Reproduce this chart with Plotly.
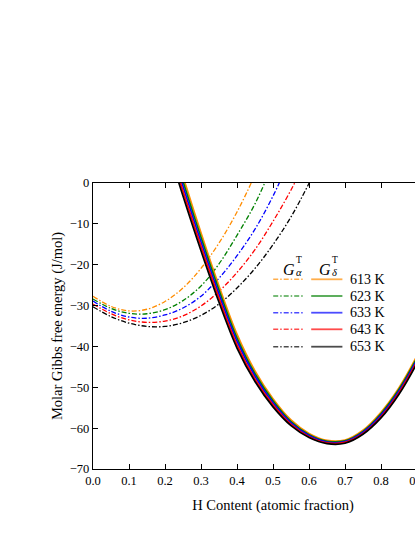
import plotly.graph_objects as go

# temperatures and colours
temps = ["613 K", "623 K", "633 K", "643 K", "653 K"]
colors = ["#ff8c00", "#008000", "#0000ff", "#ff0000", "#000000"]

# G_alpha curves (dash-dot)
alpha_x = [0.0, 0.05, 0.1, 0.15, 0.2, 0.25, 0.3, 0.35, 0.4, 0.45, 0.5, 0.55, 0.6, 0.65]
alpha_613 = [-27.7, -30.2, -31.3, -30.9, -29.0, -25.7, -20.9, -14.7, -7.1, 2.0, 12.0, 22.0, 32.0, 42.0]
alpha_623 = [-28.4, -30.7, -31.9, -32.0, -31.0, -28.8, -25.2, -19.8, -12.8, -5.1, 4.6, 14.0, 24.0, 34.0]
alpha_633 = [-28.9, -31.4, -32.8, -33.1, -32.3, -30.6, -27.7, -23.3, -17.8, -11.3, -3.2, 6.4, 16.0, 26.0]
alpha_643 = [-29.6, -32.0, -33.5, -34.1, -33.8, -32.5, -30.1, -26.5, -21.9, -16.3, -9.4, -1.7, 7.1, 17.0]
alpha_653 = [-30.3, -32.7, -34.3, -35.1, -35.1, -34.2, -32.4, -29.6, -25.7, -20.9, -15.1, -8.3, -0.1, 8.8]

# G_delta curves (solid)
delta_x = [0.225, 0.25, 0.30, 0.35, 0.40, 0.45, 0.50, 0.55,
           0.60, 0.65, 0.70, 0.75, 0.80, 0.85, 0.90, 0.95]
delta_613 = [8.7, 1.6, -12.2, -25.2, -37.0, -46.0, -52.8, -58.0,
             -61.3, -63.0, -62.9, -60.5, -56.1, -50.1, -42.3, -33.0]
delta_623 = [7.5, 0.4, -13.3, -26.2, -37.9, -46.7, -53.3, -58.4,
             -61.6, -63.2, -63.1, -60.8, -56.5, -50.5, -42.8, -33.5]
delta_633 = [6.3, -0.8, -14.4, -27.2, -38.7, -47.3, -53.8, -58.7,
             -61.8, -63.4, -63.3, -61.0, -56.8, -50.9, -43.2, -34.0]
delta_643 = [5.1, -2.0, -15.5, -28.2, -39.6, -48.0, -54.3, -59.1,
             -62.1, -63.6, -63.5, -61.3, -57.2, -51.3, -43.7, -34.5]
delta_653 = [3.9, -3.2, -16.6, -29.2, -40.4, -48.6, -54.8, -59.4,
             -62.3, -63.8, -63.7, -61.5, -57.5, -51.7, -44.1, -35.0]

x_ticks = [0.0, 0.1, 0.2, 0.3, 0.4, 0.5, 0.6, 0.7, 0.8, 0.9, 1.0]
y_ticks = [0, -10, -20, -30, -40, -50, -60, -70]

alphas = [alpha_613, alpha_623, alpha_633, alpha_643, alpha_653]
deltas = [delta_613, delta_623, delta_633, delta_643, delta_653]

DASHDOT = "5px,2px,1.5px,2px"
FONT = "Liberation Serif"

fig = go.Figure()

for ys, c in zip(alphas, colors):
    fig.add_trace(go.Scatter(x=alpha_x, y=ys, mode="lines",
                             line=dict(color=c, width=1.3, dash=DASHDOT, shape="spline"),
                             hoverinfo="skip"))

for ys, c in zip(deltas, colors):
    fig.add_trace(go.Scatter(x=delta_x, y=ys, mode="lines",
                             line=dict(color=c, width=1.7, shape="spline"),
                             hoverinfo="skip"))

# plot area in pixels: x 93.3..453.3, y 183..469
L, T, PW, PH = 93.3, 183.0, 360.0, 286.0


def px(xp):
    return (xp - L) / PW


def py(yp):
    return (T + PH - yp) / PH


# hand-made legend
row_y = [279.3, 296.0, 312.7, 329.3, 346.7]
for i, (c, lab) in enumerate(zip(colors, temps)):
    yy = py(row_y[i])
    fig.add_shape(type="line", xref="paper", yref="paper",
                  x0=px(273.5), x1=px(305), y0=yy, y1=yy, opacity=0.7,
                  line=dict(color=c, width=1.5, dash=DASHDOT))
    fig.add_shape(type="line", xref="paper", yref="paper",
                  x0=px(311.5), x1=px(342.7), y0=yy, y1=yy, opacity=0.7,
                  line=dict(color=c, width=1.8))
    fig.add_annotation(xref="paper", yref="paper", x=px(348.5), y=yy,
                       xanchor="left", yanchor="middle", showarrow=False,
                       text=lab, font=dict(family=FONT, size=14, color="black"))

for gx, sub in [(289, "α"), (325, "δ")]:
    fig.add_annotation(xref="paper", yref="paper", x=px(gx), y=py(259),
                       showarrow=False, text="<i>G</i>",
                       font=dict(family=FONT, size=16, color="black"))
    fig.add_annotation(xref="paper", yref="paper", x=px(gx + 5), y=py(252.5),
                       xanchor="left", showarrow=False, text="T",
                       font=dict(family=FONT, size=9.5, color="black"))
    fig.add_annotation(xref="paper", yref="paper", x=px(gx + 5), y=py(264.5),
                       xanchor="left", showarrow=False, text="<i>" + sub + "</i>",
                       font=dict(family=FONT, size=10.5, color="black"))

axis_common = dict(showline=True, linecolor="black", linewidth=1.3, mirror="allticks",
                   ticks="inside", ticklen=5, tickwidth=1.1, tickcolor="black",
                   showgrid=False, zeroline=False,
                   tickfont=dict(family=FONT, size=12.5, color="black"))

fig.update_layout(
    width=520, height=537,
    margin=dict(l=L, r=520 - L - PW, t=T, b=537 - T - PH),
    plot_bgcolor="white", paper_bgcolor="white",
    showlegend=False,
    xaxis=dict(range=[0, 1], tickvals=x_ticks,
               ticktext=[f"{v:.1f}" for v in x_ticks],
               title=dict(text="H Content (atomic fraction)", standoff=12,
                          font=dict(family=FONT, size=14.5, color="black")),
               **axis_common),
    yaxis=dict(range=[-70, 0], tickvals=y_ticks,
               ticktext=[str(v).replace("-", "\u2212") for v in y_ticks],
               title=dict(text="Molar Gibbs free energy (J/mol)", standoff=3,
                          font=dict(family=FONT, size=14.5, color="black")),
               **axis_common),
)

fig.write_html("out.html", config={"displayModeBar": False}, post_script=(
    "document.body.style.margin='0';"
    "document.body.style.overflow='hidden';"
    "document.documentElement.style.overflow='hidden';"))
